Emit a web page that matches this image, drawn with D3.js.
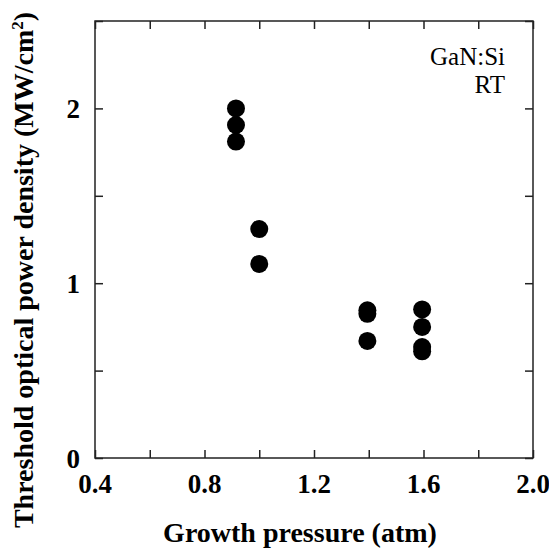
<!DOCTYPE html>
<html>
<head>
<meta charset="utf-8">
<script src="https://cdn.jsdelivr.net/npm/d3@7"></script>
<style>
body { margin: 0; background: #fff; }
text { font-family: "Liberation Serif", "Times New Roman", serif; }
</style>
</head>
<body>
<svg id="chart" width="549" height="548"></svg>
<script>
// growth pressure (atm) and threshold density (MW/cm2)
var pressure = [0.915, 0.915, 0.915, 1.0, 1.0, 1.395, 1.395, 1.395, 1.595, 1.595, 1.595, 1.595];
var threshold = [2.0, 1.905, 1.81, 1.31, 1.11, 0.845, 0.825, 0.67, 0.85, 0.75, 0.635, 0.61];
var xTickLabels = ["0.4", "0.8", "1.2", "1.6", "2.0"];
var yTickLabels = ["0", "1", "2"];
var notes = ["GaN:Si", "RT"];

var svg = d3.select("#chart");
var mLeft = 95, mRight = 533, mTop = 21, mBottom = 458;

var x = d3.scaleLinear().domain([0.4, 2.0]).range([mLeft, mRight]);
var y = d3.scaleLinear().domain([0, 2.5]).range([mBottom, mTop]);

var tickLen = 8;
var xt = d3.range(0.4, 2.01, 0.2);
var yt = d3.range(0, 2.51, 0.5);

// frame
svg.append("rect")
	.attr("x", mLeft).attr("y", mTop)
	.attr("width", mRight - mLeft).attr("height", mBottom - mTop)
	.attr("fill", "none").attr("stroke", "#222").attr("stroke-width", 1.5);

// inward ticks on all four sides
var axB = d3.axisBottom(x).tickValues(xt).tickSizeInner(-tickLen).tickSizeOuter(0).tickFormat("");
var axT = d3.axisTop(x).tickValues(xt).tickSizeInner(-tickLen).tickSizeOuter(0).tickFormat("");
var axL = d3.axisLeft(y).tickValues(yt).tickSizeInner(-tickLen).tickSizeOuter(0).tickFormat("");
var axR = d3.axisRight(y).tickValues(yt).tickSizeInner(-tickLen).tickSizeOuter(0).tickFormat("");

svg.append("g").attr("transform", "translate(0," + mBottom + ")").call(axB);
svg.append("g").attr("transform", "translate(0," + mTop + ")").call(axT);
svg.append("g").attr("transform", "translate(" + mLeft + ",0)").call(axL);
svg.append("g").attr("transform", "translate(" + mRight + ",0)").call(axR);
svg.selectAll(".domain").remove();
svg.selectAll(".tick line").attr("stroke", "#222").attr("stroke-width", 1.5);

// tick labels
svg.selectAll(".xlab").data(xTickLabels).enter().append("text")
	.attr("class", "xlab")
	.attr("x", function (d) { return x(+d); })
	.attr("y", 493)
	.attr("text-anchor", "middle")
	.style("font-size", "27px").style("font-weight", "bold")
	.text(function (d) { return d; });

svg.selectAll(".ylab").data(yTickLabels).enter().append("text")
	.attr("class", "ylab")
	.attr("x", 80)
	.attr("y", function (d) { return y(+d) + 10; })
	.attr("text-anchor", "end")
	.style("font-size", "27px").style("font-weight", "bold")
	.text(function (d) { return d; });

// points
svg.selectAll("circle").data(pressure).enter().append("circle")
	.attr("cx", function (d) { return x(d); })
	.attr("cy", function (d, i) { return y(threshold[i]); })
	.attr("r", 9)
	.attr("fill", "#000");

// notes
svg.selectAll(".note").data(notes).enter().append("text")
	.attr("class", "note")
	.attr("x", 505)
	.attr("y", function (d, i) { return 65 + i * 28; })
	.attr("text-anchor", "end")
	.style("font-size", "25px")
	.text(function (d) { return d; });

// axis titles
svg.append("text")
	.attr("x", 300)
	.attr("y", 542)
	.attr("text-anchor", "middle")
	.style("font-size", "28px").style("font-weight", "bold")
	.text("Growth pressure (atm)");

var ytitle = svg.append("text")
	.attr("transform", "translate(33,270) rotate(-90)")
	.attr("text-anchor", "middle")
	.style("font-size", "28px").style("font-weight", "bold");
ytitle.append("tspan").text("Threshold optical power density (MW/cm");
ytitle.append("tspan").attr("dy", -10).style("font-size", "17px").text("2");
ytitle.append("tspan").attr("dy", 10).text(")");
</script>
</body>
</html>
